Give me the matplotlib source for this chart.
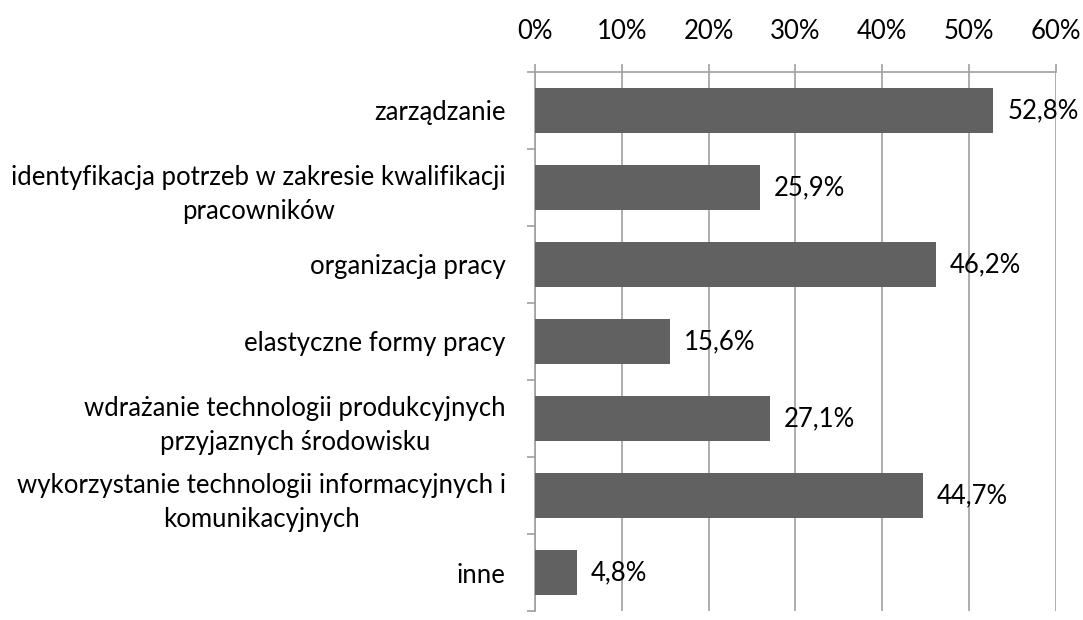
import matplotlib.pyplot as plt
from matplotlib.ticker import FuncFormatter

categories = [
    'zarządzanie',
    'identyfikacja potrzeb w zakresie kwalifikacji\npracowników',
    'organizacja pracy',
    'elastyczne formy pracy',
    'wdrażanie technologii produkcyjnych\nprzyjaznych środowisku',
    'wykorzystanie technologii informacyjnych i\nkomunikacyjnych',
    'inne',
]
values = [52.8, 25.9, 46.2, 15.6, 27.1, 44.7, 4.8]
xticks = [0, 10, 20, 30, 40, 50, 60]

plt.rcParams['font.family'] = ['Lato', 'DejaVu Sans']
fs = 18.5

fig = plt.figure(figsize=(10.83, 6.2), dpi=100)
ax = fig.add_axes([0.494, 0.0145, 0.481, 0.8695])

pos = list(range(len(categories)))
ax.barh(pos, values, height=0.58, color='#616161', zorder=3)
ax.set_ylim(len(categories) - 0.5, -0.5)
ax.set_xlim(0, 60)

ax.xaxis.tick_top()
ax.set_xticks(xticks)
ax.xaxis.set_major_formatter(FuncFormatter(lambda v, p: f'{v:.0f}%'))
ax.tick_params(axis='x', length=6, color='#a0a0a0', width=1.2, labelsize=fs, pad=14)
ax.grid(axis='x', color='#a0a0a0', linewidth=1.2, zorder=0)

ax.set_yticks(pos)
ax.set_yticklabels(categories)
ax.set_yticks([i - 0.5 for i in range(len(categories) + 1)], minor=True)
ax.tick_params(axis='y', which='major', length=0, labelsize=fs, pad=21)
ax.tick_params(axis='y', which='minor', length=6, color='#a0a0a0', width=1.2)
for lab in ax.get_yticklabels():
    lab.set_multialignment('center')
    lab.set_linespacing(1.45)

for s in ['right', 'bottom']:
    ax.spines[s].set_visible(False)
for s in ['top', 'left']:
    ax.spines[s].set_color('#a0a0a0')
    ax.spines[s].set_linewidth(1.2)

for i, v in enumerate(values):
    ax.annotate(f'{v:.1f}%'.replace('.', ','), (v, i), xytext=(10, 0),
                textcoords='offset points', va='center', ha='left', fontsize=fs)

fig.savefig('out.png', dpi=100)
